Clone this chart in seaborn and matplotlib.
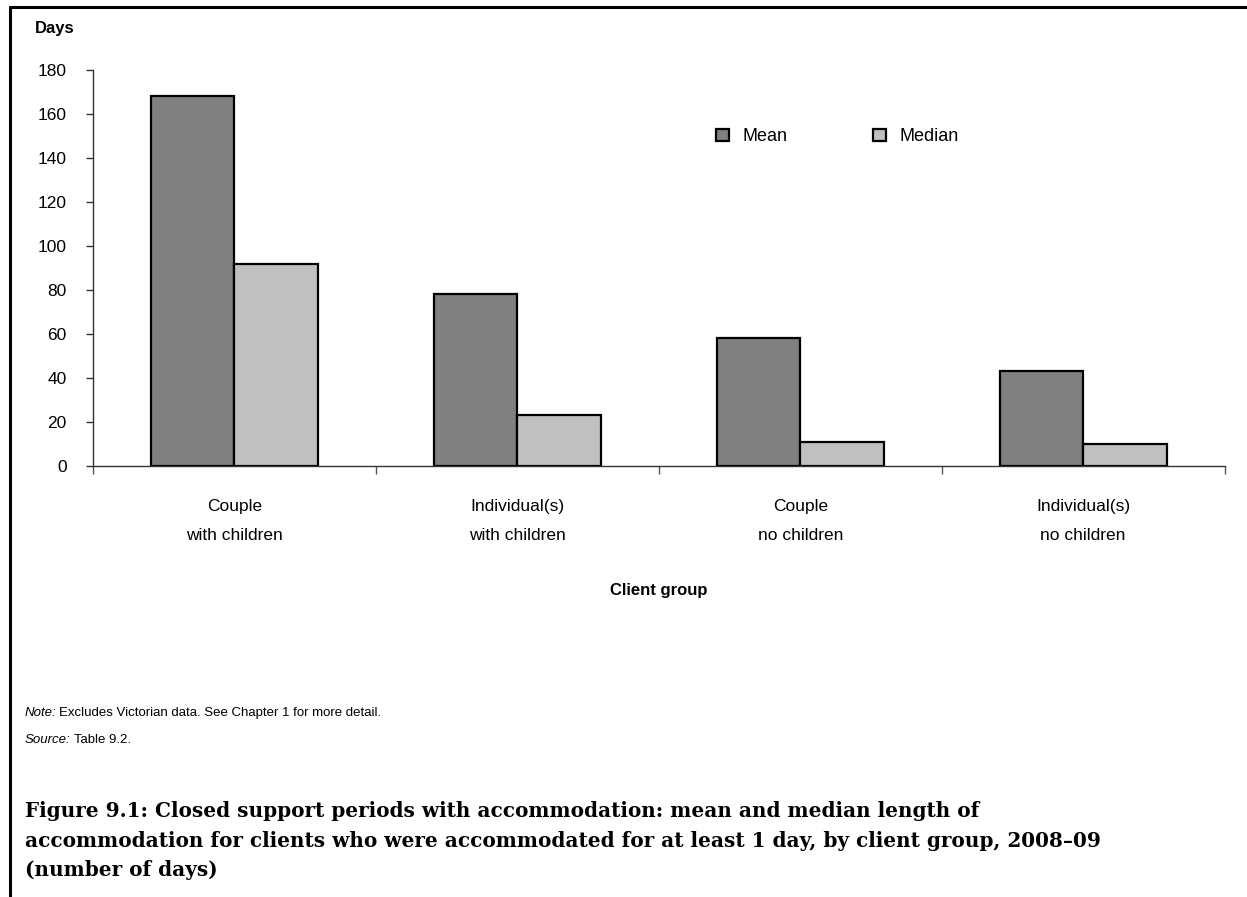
import pandas as pd
import matplotlib.pyplot as plt
import seaborn as sns
from matplotlib.lines import Line2D

# Chart data
groups = ["Couple\nwith children", "Individual(s)\nwith children",
          "Couple\nno children", "Individual(s)\nno children"]
mean_days = [168, 78, 58, 43]
median_days = [92, 23, 11, 10]
measures = ["Mean", "Median"]
y_ticks = [0, 20, 40, 60, 80, 100, 120, 140, 160, 180]

df = pd.DataFrame({
    "Client group": groups * 2,
    "Measure": ["Mean"] * len(groups) + ["Median"] * len(groups),
    "Days": mean_days + median_days,
})

sns.set_style("white")
plt.rcParams["font.family"] = ["Liberation Sans", "DejaVu Sans"]
plt.rcParams["text.color"] = "black"
plt.rcParams["xtick.color"] = "black"
plt.rcParams["ytick.color"] = "black"
plt.rcParams["axes.labelcolor"] = "black"

fig = plt.figure(figsize=(12.47, 8.97), dpi=100)
ax = fig.add_axes([93 / 1247, 1 - 466 / 897, (1224.5 - 93) / 1247, (466 - 70) / 897])

sns.barplot(data=df, x="Client group", y="Days", hue="Measure", order=groups,
            hue_order=measures, palette=["#808080", "#c0c0c0"], width=0.59,
            gap=0, edgecolor="black", linewidth=1.6, saturation=1, ax=ax)

ax.set_xlim(-0.5, 3.5)
ax.set_ylim(0, 180)
ax.set_yticks(y_ticks)
ax.tick_params(axis="y", labelsize=12.5, length=5, width=1, color="#333333",
               labelcolor="black", direction="out", left=True, pad=14)
# category labels drawn as text so the two lines get the wider spacing
ax.set_xticks(range(len(groups)), labels=[""] * len(groups))
for i, g in enumerate(groups):
    ax.text(i, -0.083, g, transform=ax.get_xaxis_transform(), ha="center", va="top",
            fontsize=12.5, linespacing=2.18)
ax.set_xticks([-0.5, 0.5, 1.5, 2.5, 3.5], minor=True)
ax.tick_params(axis="x", which="minor", length=6, width=1, color="#555555", bottom=True)
ax.tick_params(axis="x", which="major", length=0)

for side in ["top", "right"]:
    ax.spines[side].set_visible(False)
for side in ["left", "bottom"]:
    ax.spines[side].set_color("#333333")
    ax.spines[side].set_linewidth(1)

ax.set_ylabel("")
ax.set_xlabel("")
ax.text(0.5, -(590 - 466) / 396, "Client group", transform=ax.transAxes, ha="center",
        va="center", fontsize=12, fontweight="bold")

ax.legend(ncol=2, frameon=False, loc="center left", bbox_to_anchor=(0.5365, 0.831),
          fontsize=13, handlelength=0.7, handleheight=0.7, handletextpad=0.75,
          columnspacing=4.75, labelcolor="black")

fig.text(35 / 1247, 1 - 28 / 897, "Days", fontsize=12, fontweight="bold", va="center")

# notes
fig.text(25 / 1247, 1 - 713 / 897, "Note:", fontsize=9.5, style="italic", va="center")
fig.text(59 / 1247, 1 - 713 / 897, "Excludes Victorian data. See Chapter 1 for more detail.",
         fontsize=9.5, va="center")
fig.text(25 / 1247, 1 - 740 / 897, "Source:", fontsize=9.5, style="italic", va="center")
fig.text(74 / 1247, 1 - 740 / 897, "Table 9.2.", fontsize=9.5, va="center")

caption = ("Figure 9.1: Closed support periods with accommodation: mean and median length of\n"
           "accommodation for clients who were accommodated for at least 1 day, by client group, 2008\u201309\n"
           "(number of days)")
fig.text(25 / 1247, 1 - 801 / 897, caption, fontsize=14.4, fontweight="bold",
         family=["DejaVu Serif"], va="top", linespacing=1.6)

# page frame
fig.add_artist(Line2D([10 / 1247, 1], [1 - 7 / 897, 1 - 7 / 897], color="black", lw=2.2,
                      transform=fig.transFigure))
fig.add_artist(Line2D([10 / 1247, 10 / 1247], [0, 1 - 7 / 897], color="black", lw=2.2,
                      transform=fig.transFigure))

fig.savefig("out.png", dpi=100)
